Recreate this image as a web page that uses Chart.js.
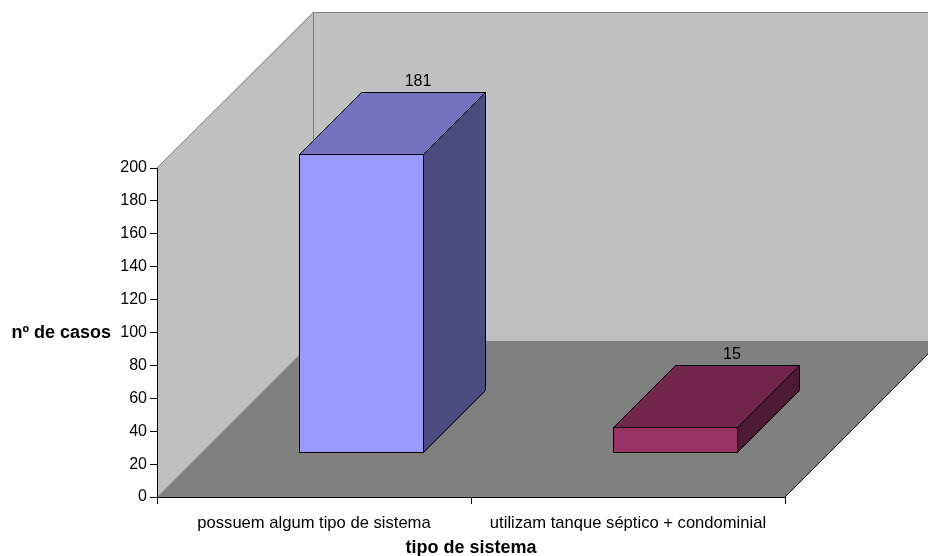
<!DOCTYPE html>
<html>
<head>
<meta charset="utf-8">
<script src="https://cdn.jsdelivr.net/npm/chart.js@4/dist/chart.umd.min.js"></script>
<style>
  html, body { margin: 0; padding: 0; background: #ffffff; }
  #wrap { width: 928px; height: 556px; position: relative; }
</style>
</head>
<body>
<div id="wrap"><canvas id="chart" width="928" height="556"></canvas></div>
<script>
// Categories and counts
const categories = ['possuem algum tipo de sistema', 'utilizam tanque séptico + condominial'];
const casos = [181, 15];

// Value axis range
const yMin = 0;
const yMax = 200;
const yStep = 20;

// Axis titles
const yTitle = 'nº de casos';
const xTitle = 'tipo de sistema';

// Face colours of each box: front, top, side
const frontColors = ['#9999FF', '#993366'];
const topColors = ['#7373BF', '#73264D'];
const sideColors = ['#4C4C80', '#4D1A33'];

const FONT = '"Liberation Sans", Arial, sans-serif';

// 3D geometry (pixels)
const WALL_DEPTH = 156;   // depth of the floor / side wall
const BAR_OFFSET_X = 47;  // shift of box front from the front plane
const BAR_OFFSET_Y = 45;
const BAR_DEPTH = 62;     // depth of each box

function poly(ctx, pts) {
  ctx.beginPath();
  ctx.moveTo(pts[0][0], pts[0][1]);
  for (let i = 1; i < pts.length; i++) ctx.lineTo(pts[i][0], pts[i][1]);
  ctx.closePath();
}

// Walls and floor behind the plot
const walls3d = {
  id: 'walls3d',
  beforeDraw(chart) {
    const { ctx, chartArea: a } = chart;
    const L = a.left, R = a.right, T = a.top, B = a.bottom, D = WALL_DEPTH;
    ctx.save();
    ctx.fillStyle = '#C0C0C0';
    poly(ctx, [[L, T], [L + D, T - D], [L + D, B - D], [L, B]]);
    ctx.fill();
    ctx.fillRect(L + D, T - D, R - L, B - T);

    ctx.fillStyle = '#808080';
    poly(ctx, [[L, B], [L + D, B - D], [R + D, B - D], [R, B]]);
    ctx.fill();

    ctx.lineWidth = 1;
    ctx.strokeStyle = '#808080';
    ctx.beginPath();
    ctx.moveTo(L, T);
    ctx.lineTo(L + D + 0.5, T - D + 0.5);
    ctx.lineTo(R + D, T - D + 0.5);
    ctx.moveTo(L + D + 0.5, T - D);
    ctx.lineTo(L + D + 0.5, B - D);
    ctx.stroke();

    ctx.strokeStyle = '#000000';
    ctx.beginPath();
    ctx.moveTo(R, B);
    ctx.lineTo(R + D, B - D);
    ctx.stroke();
    ctx.restore();
  }
};

// Boxes built from the bar elements laid out by the category / value scales
const boxes3d = {
  id: 'boxes3d',
  afterDatasetsDraw(chart) {
    const { ctx } = chart;
    const meta = chart.getDatasetMeta(0);
    ctx.save();
    ctx.lineWidth = 1;
    ctx.strokeStyle = '#000000';
    ctx.lineJoin = 'miter';
    meta.data.forEach((bar, i) => {
      const p = bar.getProps(['x', 'y', 'base', 'width'], true);
      const l = Math.round(p.x - p.width / 2 + BAR_OFFSET_X) + 0.5;
      const r = Math.round(p.x + p.width / 2 + BAR_OFFSET_X) + 0.5;
      const t = Math.round(p.y - BAR_OFFSET_Y) + 0.5;
      const b = Math.round(p.base - BAR_OFFSET_Y) + 0.5;
      const d = BAR_DEPTH;

      ctx.fillStyle = sideColors[i];
      poly(ctx, [[r, t], [r + d, t - d], [r + d, b - d], [r, b]]);
      ctx.fill(); ctx.stroke();

      ctx.fillStyle = topColors[i];
      poly(ctx, [[l, t], [l + d, t - d], [r + d, t - d], [r, t]]);
      ctx.fill(); ctx.stroke();

      ctx.fillStyle = frontColors[i];
      poly(ctx, [[l, t], [r, t], [r, b], [l, b]]);
      ctx.fill(); ctx.stroke();

      // value label over the back edge of the top face
      ctx.fillStyle = '#000000';
      ctx.font = '16px ' + FONT;
      ctx.textAlign = 'center';
      ctx.textBaseline = 'alphabetic';
      ctx.fillText(String(casos[i]), p.x + BAR_OFFSET_X + d - 5, t - d - 7);
    });
    ctx.restore();
  },
  afterDraw(chart) {
    const { ctx, chartArea: a } = chart;
    const ys = chart.scales.y;
    ctx.save();
    ctx.fillStyle = '#000000';
    ctx.font = 'bold 18px ' + FONT;
    ctx.textBaseline = 'middle';
    ctx.textAlign = 'right';
    ctx.fillText(yTitle, 111, ys.getPixelForValue((yMin + yMax) / 2) + 1);
    ctx.textAlign = 'center';
    ctx.fillText(xTitle, (a.left + a.right) / 2, 548);
    ctx.restore();
  }
};

new Chart(document.getElementById('chart'), {
  type: 'bar',
  data: {
    labels: categories,
    datasets: [{
      data: casos,
      backgroundColor: 'rgba(0,0,0,0)',
      borderWidth: 0,
      categoryPercentage: 1,
      barPercentage: 0.398
    }]
  },
  options: {
    responsive: false,
    animation: false,
    devicePixelRatio: 1,
    layout: { padding: { top: 168, right: 143, left: 0, bottom: 0 } },
    plugins: {
      legend: { display: false },
      tooltip: { enabled: false },
      title: { display: false }
    },
    scales: {
      x: {
        offset: true,
        grid: { offset: true, drawOnChartArea: false, drawTicks: true, tickLength: 7, color: '#000000' },
        border: { display: true, color: '#000000', width: 1 },
        ticks: { color: '#000000', font: { family: FONT, size: 16.6 }, padding: 9, maxRotation: 0, autoSkip: false },
        afterFit(scale) { scale.height = 59; }
      },
      y: {
        min: yMin,
        max: yMax,
        grid: { drawOnChartArea: false, drawTicks: true, tickLength: 7, color: '#000000' },
        border: { display: true, color: '#000000', width: 1 },
        ticks: { stepSize: yStep, color: '#000000', font: { family: FONT, size: 16 }, padding: 3 },
        afterFit(scale) { scale.width = 157; }
      }
    }
  },
  plugins: [walls3d, boxes3d]
});
</script>
</body>
</html>
